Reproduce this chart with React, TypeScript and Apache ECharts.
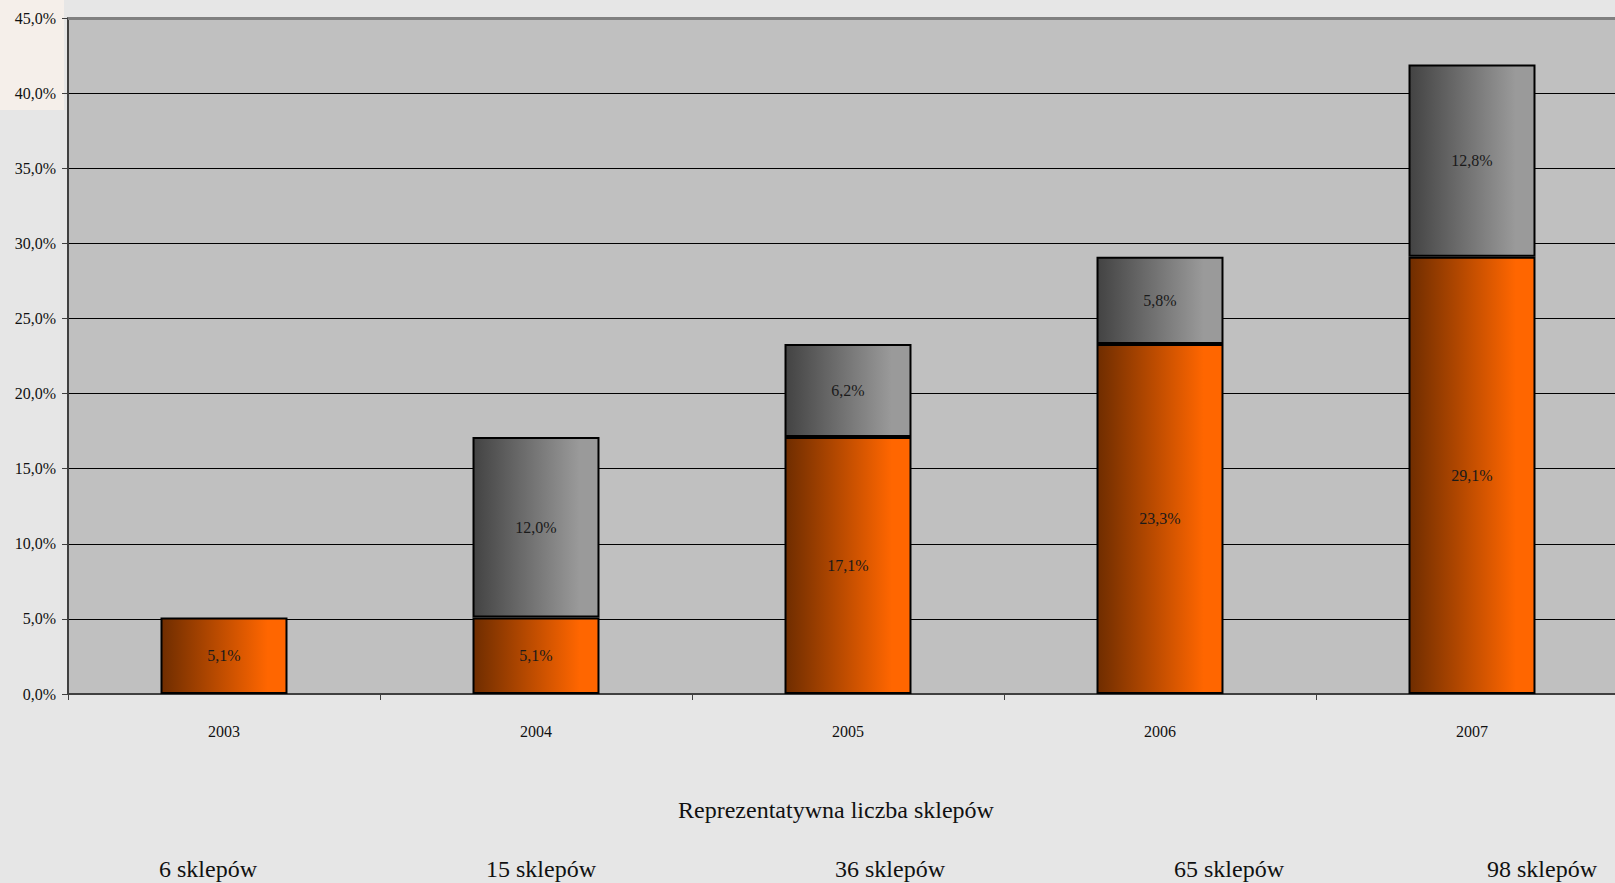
import React, { useEffect, useRef } from "react";
import * as echarts from "echarts";

const categories = ["2003", "2004", "2005", "2006", "2007"];
const orangeValues = [5.1, 5.1, 17.1, 23.3, 29.1];
const grayValues: (number | null)[] = [null, 12.0, 6.2, 5.8, 12.8];
const axisTitle = "Reprezentatywna liczba sklepów";
const shopLabels = ["6 sklepów", "15 sklepów", "36 sklepów", "65 sklepów", "98 sklepów"];
const shopLabelX = [208, 541, 890, 1229, 1542];

const FONT = "Liberation Serif, Times New Roman, serif";

const fmt = (v: number) => v.toFixed(1).replace(".", ",") + "%";

export default function App() {
  const ref = useRef<HTMLDivElement>(null);
  useEffect(() => {
    if (!ref.current) return;
    const chart = echarts.init(ref.current, undefined, { renderer: "svg" });
    const orangeGrad = new echarts.graphic.LinearGradient(0, 0, 1, 0, [
      { offset: 0, color: "#6f2d00" },
      { offset: 0.85, color: "#ff6600" },
      { offset: 1, color: "#ff6600" },
    ]);
    const grayGrad = new echarts.graphic.LinearGradient(0, 0, 1, 0, [
      { offset: 0, color: "#434343" },
      { offset: 0.85, color: "#9a9a9a" },
      { offset: 1, color: "#9a9a9a" },
    ]);
    const label = {
      show: true,
      position: "inside",
      fontFamily: FONT,
      fontSize: 16,
      color: "#1a1a1a",
      formatter: (p: any) => fmt(p.value),
    };
    chart.setOption({
      animation: false,
      backgroundColor: "#e6e6e6",
      grid: {
        left: 68,
        top: 18,
        bottom: 189,
        right: 0,
        show: true,
        backgroundColor: "#c0c0c0",
        borderWidth: 0,
      },
      graphic: [
        {
          type: "rect",
          z: -10,
          shape: { x: 0, y: 0, width: 64, height: 110 },
          style: { fill: "#f5efea" },
        },
        {
          type: "text",
          x: 836,
          y: 810,
          style: {
            text: axisTitle,
            font: `24px ${FONT}`,
            fill: "#111",
            align: "center",
            verticalAlign: "middle",
          },
        },
        ...shopLabels.map((t, i) => ({
          type: "text",
          x: shopLabelX[i],
          y: 869,
          style: {
            text: t,
            font: `24px ${FONT}`,
            fill: "#111",
            align: "center",
            verticalAlign: "middle",
          },
        })),
      ],
      xAxis: {
        type: "category",
        data: categories,
        axisLine: { lineStyle: { color: "#404040", width: 2 } },
        axisTick: { show: true, length: 6, lineStyle: { color: "#404040" } },
        axisLabel: {
          fontFamily: FONT,
          fontSize: 16,
          color: "#111",
          margin: 29,
        },
      },
      yAxis: {
        type: "value",
        min: 0,
        max: 45,
        interval: 5,
        axisLine: { show: true, lineStyle: { color: "#404040", width: 2 } },
        axisTick: { show: true, length: 6, lineStyle: { color: "#404040" } },
        axisLabel: {
          fontFamily: FONT,
          fontSize: 16,
          color: "#111",
          margin: 12,
          formatter: (v: number) => fmt(v),
        },
        splitLine: { show: true, lineStyle: { color: "#000", width: 1 } },
      },
      series: [
        {
          type: "bar",
          stack: "a",
          data: orangeValues,
          barWidth: "40.7%",
          itemStyle: { color: orangeGrad, borderColor: "#000", borderWidth: 2 },
          label,
          markLine: {
            silent: true,
            symbol: "none",
            label: { show: false },
            lineStyle: { color: "#808080", width: 3, type: "solid" },
            data: [{ yAxis: 45 }],
          },
        },
        {
          type: "bar",
          stack: "a",
          data: grayValues,
          barWidth: "40.7%",
          itemStyle: { color: grayGrad, borderColor: "#000", borderWidth: 2 },
          label,
        },
      ],
    });
    return () => chart.dispose();
  }, []);
  return (
    <div
      style={{
        position: "fixed",
        left: 0,
        top: 0,
        width: 1615,
        height: 883,
        overflow: "hidden",
      }}
    >
      <div ref={ref} style={{ width: 1628, height: 883 }} />
    </div>
  );
}
